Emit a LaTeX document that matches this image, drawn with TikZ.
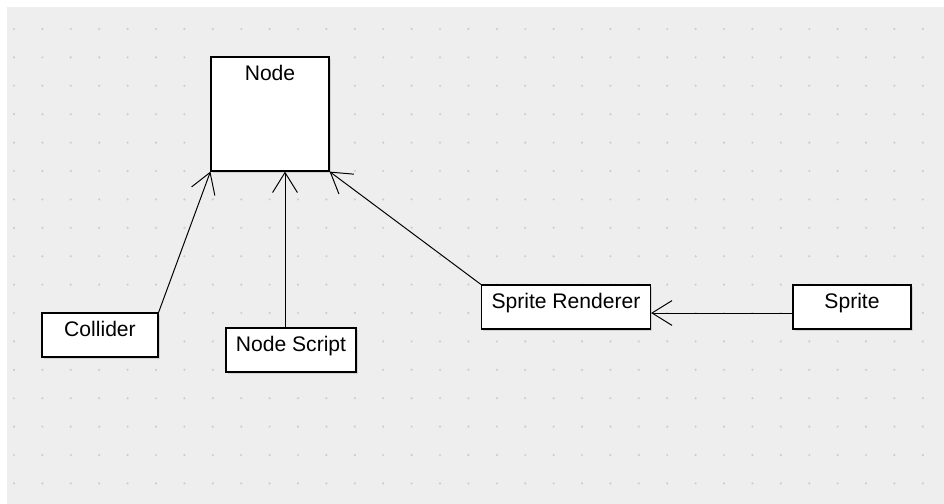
\documentclass[tikz,border=0pt]{standalone}
\usepackage{fontspec}
\setmainfont{Liberation Sans}
\usepackage{tikz}
\usetikzlibrary{arrows.meta,shadows}
\definecolor{canvasgray}{HTML}{EEEEEE}
\definecolor{griddot}{HTML}{CDCDCD}

\begin{document}
\begin{tikzpicture}[
    x=0.025cm, y=-0.025cm,
    every node/.style={font=\fontsize{15}{18}\selectfont},
    classbox/.style={
        rectangle,
        draw=black,
        line width=0.8pt,
        fill=white,
        minimum height=1.1cm,
        inner sep=0pt,
        text height=0.35cm,
        text depth=0.3cm,
        drop shadow={shadow xshift=1.2pt, shadow yshift=-1.2pt, opacity=0.25}
    },
    assoc/.style={-{Straight Barb[length=0.5cm, width=0.62cm, line width=0.7pt]}, line width=0.7pt}
]
    % canvas and dotted grid
    \useasboundingbox (0,0) rectangle (944,504);
    \fill[canvasgray] (7,7) rectangle (944,504);
    \foreach \i in {0,...,32}
        \foreach \j in {0,...,16}
            \fill[griddot] (14+28.4*\i, 29+28.4*\j) circle (0.03cm);

    % classes
    \node[classbox, minimum width=2.95cm, minimum height=2.85cm] (node) at (270,114) {};
    \node[anchor=north] (nodetitle) at ([yshift=-0.1cm]node.north) {Node};

    \node[classbox, minimum width=2.9cm] (collider) at (100,335) {Collider};
    \node[classbox, minimum width=3.25cm] (script) at (291,350) {Node Script};
    \node[classbox, minimum width=4.225cm] (renderer) at (566,307) {Sprite Renderer};
    \node[classbox, minimum width=2.95cm] (sprite) at (852,307) {Sprite};

    % associations
    \draw[assoc] (collider.north east) -- (node.south west);
    \coordinate (scripttop) at ([xshift=-0.15cm]script.north);
    \draw[assoc] (scripttop) -- (scripttop |- node.south);
    \draw[assoc] (renderer.north west) -- (node.south east);
    \draw[assoc] ([yshift=-0.15cm]sprite.west) -- ([yshift=-0.15cm]renderer.east);
\end{tikzpicture}
\end{document}
